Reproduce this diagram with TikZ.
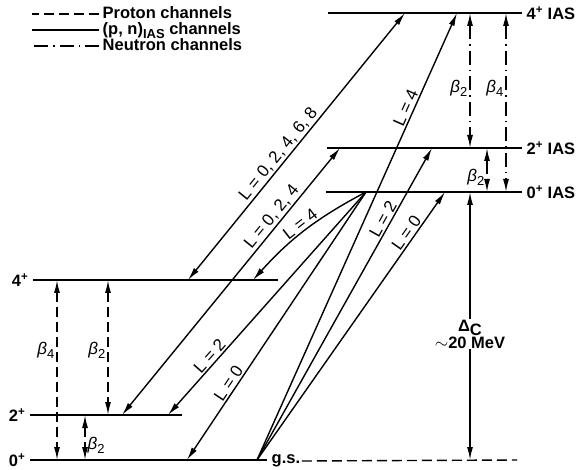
\documentclass[tikz,border=0pt]{standalone}
\usepackage{fontspec}
\setmainfont{Liberation Sans}
\usetikzlibrary{arrows.meta, positioning}

\newcommand{\lowsub}[2]{#1\raisebox{-4pt}{\fontsize{13}{13}\selectfont #2}}
\newcommand{\betasub}[1]{\lowsub{{\itshape β}}{#1}}

\begin{document}
\begin{tikzpicture}[x=1pt, y=1pt, line width=1.4pt,
  >={Latex[length=13pt, width=6pt]},
  proton/.style={dash pattern=on 10pt off 5pt},
  neutron/.style={dash pattern=on 14pt off 5pt on 1.5pt off 5pt},
  lvlabel/.style={font=\fontsize{16.5}{17}\selectfont\bfseries, inner sep=1pt},
  chanlabel/.style={font=\fontsize{17}{18}\selectfont, sloped, above, inner sep=1.5pt},
  betalabel/.style={font=\fontsize{17}{18}\selectfont, inner sep=2pt}]
  \useasboundingbox (0,0) rectangle (581,469);

  % Legend
  \foreach \i/\sty/\txt in {0/proton/{Proton channels},
      1/solid/{(p, n)\lowsub{}{IAS} channels},
      2/neutron/{Neutron channels}} {
    \pgfmathsetmacro{\ypos}{450 - \i * 16}
    \node[lvlabel, anchor=base west] (leg\i) at (101,\ypos) {\txt};
    \draw[\sty] (leg\i.base west) ++(-2,5) -- ++(-67,0);
  }

  % IAS levels
  \foreach \name/\xa/\ypos/\sp in {ias4/328/456/4, ias2/327/321/2, ias0/326/277/0} {
    \coordinate (\name) at (\xa,\ypos);
    \draw (\name) -- (522,\ypos) node[lvlabel, right=3pt] (\name txt) {\sp\textsuperscript{+} IAS};
  }
  % Parent levels
  \foreach \name/\xa/\xb/\ypos/\sp in {lv4/33/278/189/4, lv2/30/182/54/2, lv0/30/267/9/0} {
    \coordinate (\name) at (\xa,\ypos);
    \draw (\name) node[lvlabel, left=3pt] (\name txt) {\sp\textsuperscript{+}} -- (\xb,\ypos);
  }
  \node[lvlabel, anchor=west] (gs) at (270,8) {g.s.};
  \draw[proton] (gs.east) -- (517,9);

  % End points of the channels
  \foreach \name/\pos in {p48/{188,189}, q48/{405,456}, p24/{122,54}, q24/{340,321},
      p4/{253,189}, p2/{168,54}, p0/{187,9}, q4/{457,456}, q2/{432,321}, q0/{445,277},
      apex/{366,277}, gsfoot/{257,9}}
    \coordinate (\name) at (\pos);

  % (p, n) channels
  \draw[<->] (p48) -- node[chanlabel, pos=0.45] {L = 0, 2, 4, 6, 8} (q48);
  \draw[<->] (p24) -- node[chanlabel, pos=0.72] {L = 0, 2, 4} (q24);
  \draw[<-] (p4) to[bend left=10] node[chanlabel] {L = 4} (apex);
  \draw[<-] (p2) -- node[chanlabel, pos=0.24] {L = 2} (apex);
  \draw[<-] (p0) -- node[chanlabel, pos=0.27] {L = 0} (apex);
  \foreach \dest/\lval/\p in {q4/4/0.78, q2/2/0.76, q0/0/0.83}
    \draw[->] (gsfoot) -- node[chanlabel, pos=\p] {L = \lval} (\dest);

  % Proton channels
  \draw[<->, proton] (57,0 |- lv4) -- node[betalabel, left, pos=0.39] {\betasub{4}} (57,0 |- lv0);
  \draw[<->, proton] (108,0 |- lv4) -- node[betalabel, left, pos=0.52] {\betasub{2}} (108,0 |- lv2);
  \draw[<->, proton] (85,0 |- lv2) -- node[betalabel, right, pos=0.67] {\betasub{2}} (85,0 |- lv0);

  % Neutron channels
  \draw[<->, neutron] (470,0 |- ias4) -- node[betalabel, left, pos=0.56] {\betasub{2}} (470,0 |- ias2);
  \draw[<->, neutron] (506,0 |- ias4) -- node[betalabel, left, pos=0.42] {\betasub{4}} (506,0 |- ias0);
  \draw[<->, neutron] (487,0 |- ias2) -- node[betalabel, left, pos=0.66] {\betasub{2}} (487,0 |- ias0);

  % Coulomb displacement
  \draw[<->] (470,0 |- ias0) -- node[lvlabel, fill=white, align=center, pos=0.53] (coul)
    {Δ\raisebox{-4pt}{C}\\$\sim$20 MeV} (470,0 |- lv0);
\end{tikzpicture}
\end{document}
